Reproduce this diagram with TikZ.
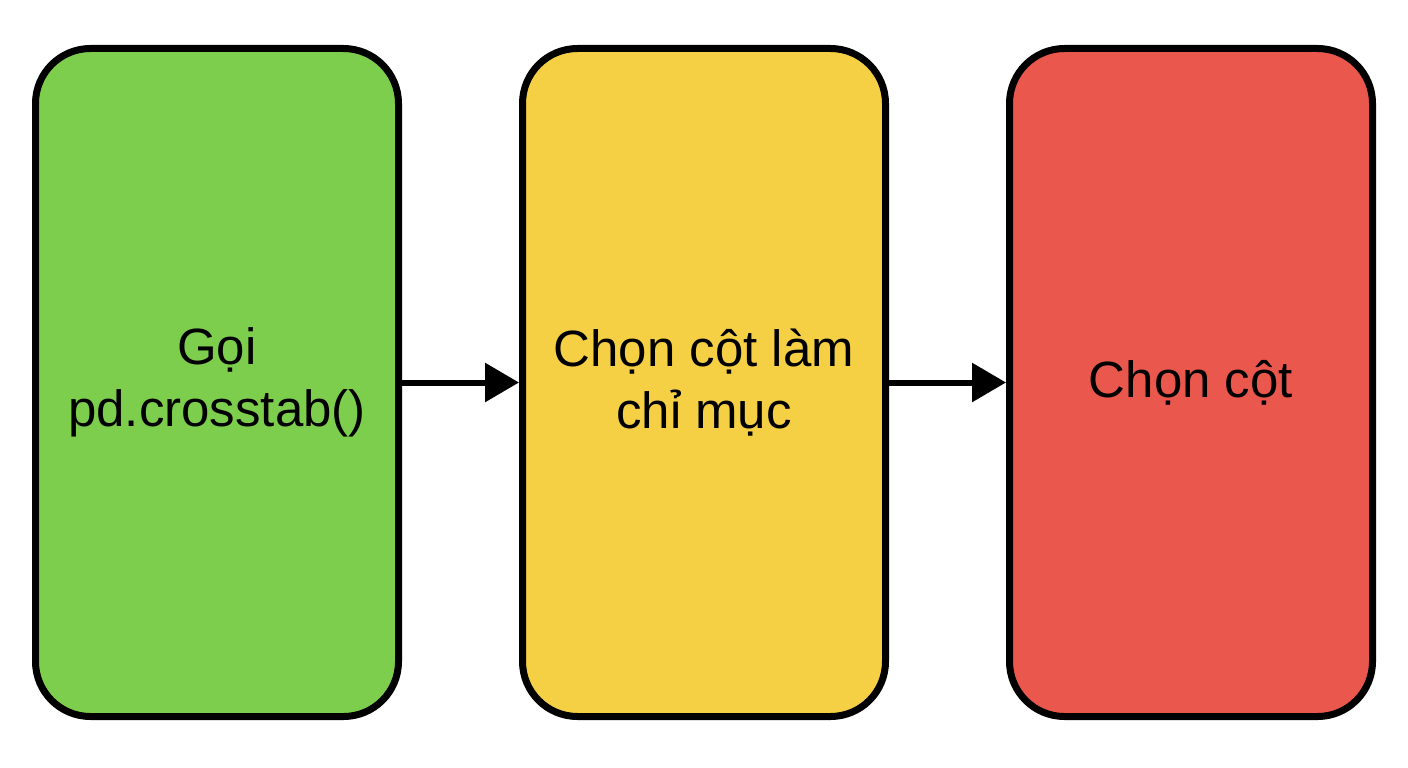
\documentclass[tikz,border=0pt]{standalone}
\usepackage{fontspec}
\setmainfont{Liberation Sans}
\usetikzlibrary{arrows.meta,positioning}
\definecolor{stepgreen}{RGB}{126,206,78}
\definecolor{stepyellow}{RGB}{245,207,68}
\definecolor{stepred}{RGB}{234,88,77}

\begin{document}
\begin{tikzpicture}[x=1pt,y=1pt]
\tikzstyle{main}=[rectangle, rounded corners=55pt, draw=black, line width=7pt, minimum width=363pt, minimum height=668pt, align=center, font=\fontsize{51}{62}\selectfont, node distance=117pt]
\tikzstyle{connect}=[-{Triangle[length=34pt,width=38pt]}, line width=6pt]

  \useasboundingbox (0,0) rectangle (1408,-768);

  \node[main, fill=stepgreen]  (call)   at (217,-382.5)    {Gọi\\pd.crosstab()};
  \node[main, fill=stepyellow] (index)  [right=of call]   {Chọn cột làm\\chỉ mục};
  \node[main, fill=stepred]    (column) [right=of index]  {Chọn cột};

  \path (call)  edge [connect] (index);
  \path (index) edge [connect] (column);

\end{tikzpicture}
\end{document}
